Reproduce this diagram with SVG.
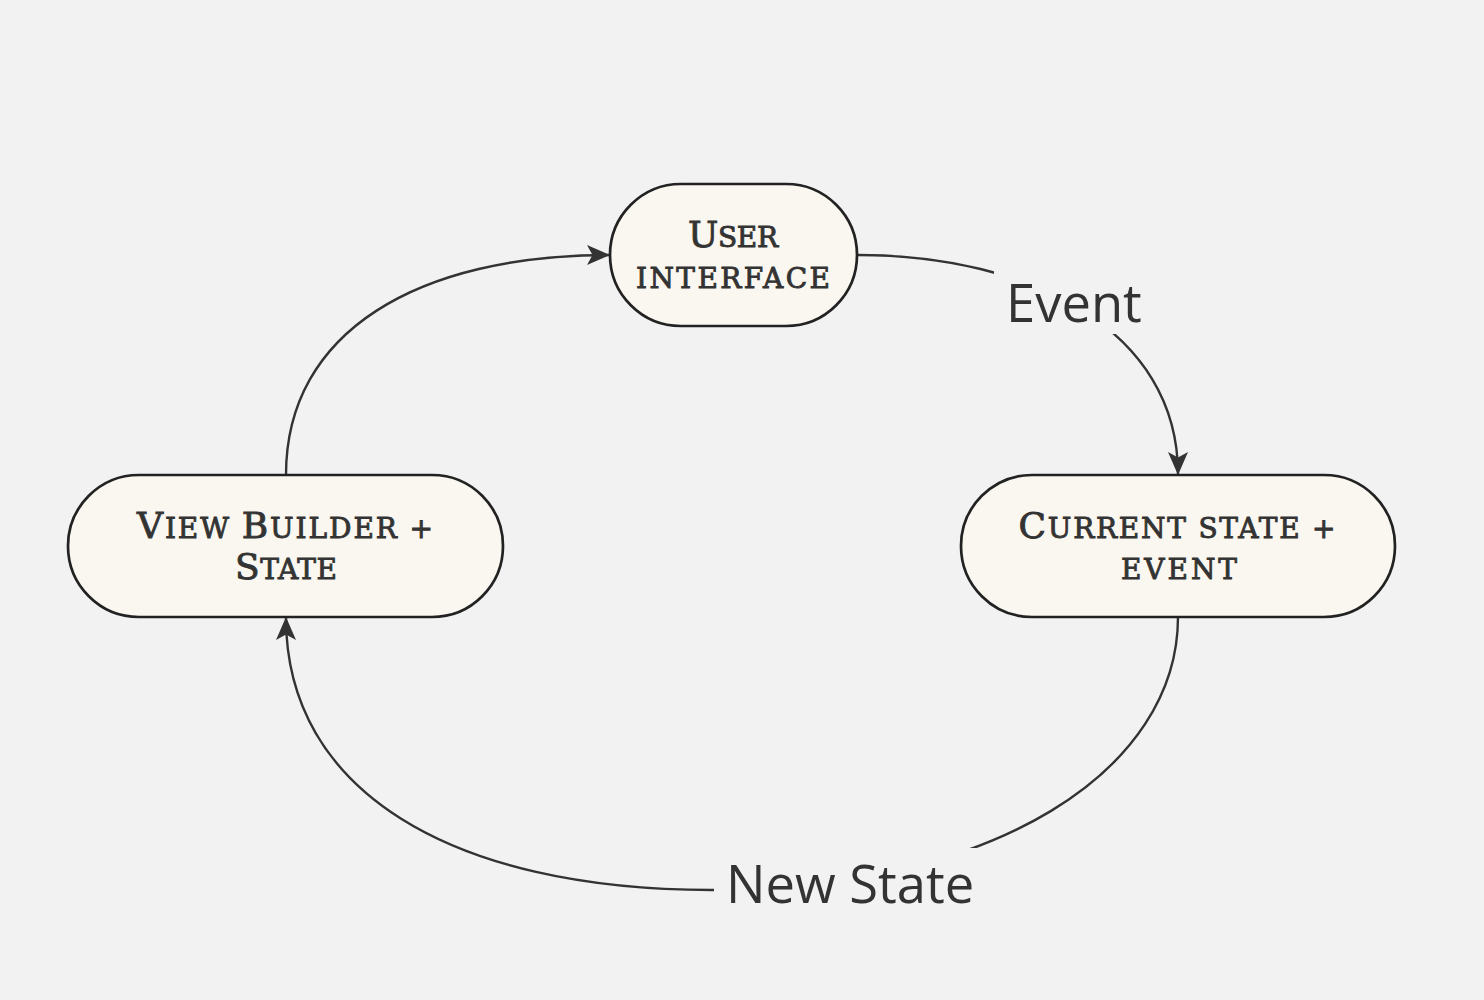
<svg xmlns="http://www.w3.org/2000/svg" width="1484" height="1000" viewBox="0 0 1484 1000">
<style>
.node{fill:#faf7f0;stroke:#222;stroke-width:2.7}
.nt{font-family:"DejaVu Serif","Liberation Serif",serif;font-size:28px;fill:#333;stroke:#333;stroke-width:0.9;text-anchor:middle}
.big{font-size:36px}
.edge{fill:none;stroke:#333;stroke-width:2.4}
.lbl{font-family:"Open Sans","Noto Sans",sans-serif;font-size:52.5px;fill:#333}
</style>
<defs>
<marker id="ah" viewBox="0 0 24 24" refX="22" refY="12" markerWidth="24" markerHeight="24" markerUnits="userSpaceOnUse" orient="auto">
<path d="M0,2 L23,12 L0,22 L5.5,12 Z" fill="#333"/>
</marker>
</defs>
<rect width="1484" height="1000" fill="#f2f2f2"/>
<g id="connectors">
<path class="edge" d="M286,475 C286,330 420,255 609,255" marker-end="url(#ah)"/>
<path class="edge" d="M858,255 C1030,255 1178,330 1178,474" marker-end="url(#ah)"/>
<rect x="994" y="262" width="160" height="72" fill="#f2f2f2"/>
<path class="edge" d="M1178,617 C1178,770 995,890 712,890 C450,890 286,790 286,618" marker-end="url(#ah)"/>
<rect x="714" y="848" width="264" height="70" fill="#f2f2f2"/>
<text class="lbl" x="1006" y="322">Event</text>
<text class="lbl" x="726" y="903">New State</text>
</g>
<g id="user-interface">
<rect class="node" x="610" y="184" width="247" height="142" rx="71"/>
<text class="nt" x="733" y="247" textLength="90" lengthAdjust="spacing"><tspan class="big">U</tspan>SER</text>
<text class="nt" x="733" y="288" textLength="194" lengthAdjust="spacing">INTERFACE</text>
</g>
<g id="view-builder">
<rect class="node" x="68" y="475" width="435" height="142" rx="71"/>
<text class="nt" x="285" y="538" textLength="296" lengthAdjust="spacing"><tspan class="big">V</tspan>IEW <tspan class="big">B</tspan>UILDER +</text>
<text class="nt" x="286" y="579" textLength="102" lengthAdjust="spacing"><tspan class="big">S</tspan>TATE</text>
</g>
<g id="current-state">
<rect class="node" x="961" y="475" width="434" height="142" rx="71"/>
<text class="nt" x="1177" y="538" textLength="317" lengthAdjust="spacing"><tspan class="big">C</tspan>URRENT STATE +</text>
<text class="nt" x="1179" y="579" textLength="116" lengthAdjust="spacing">EVENT</text>
</g>
</svg>
